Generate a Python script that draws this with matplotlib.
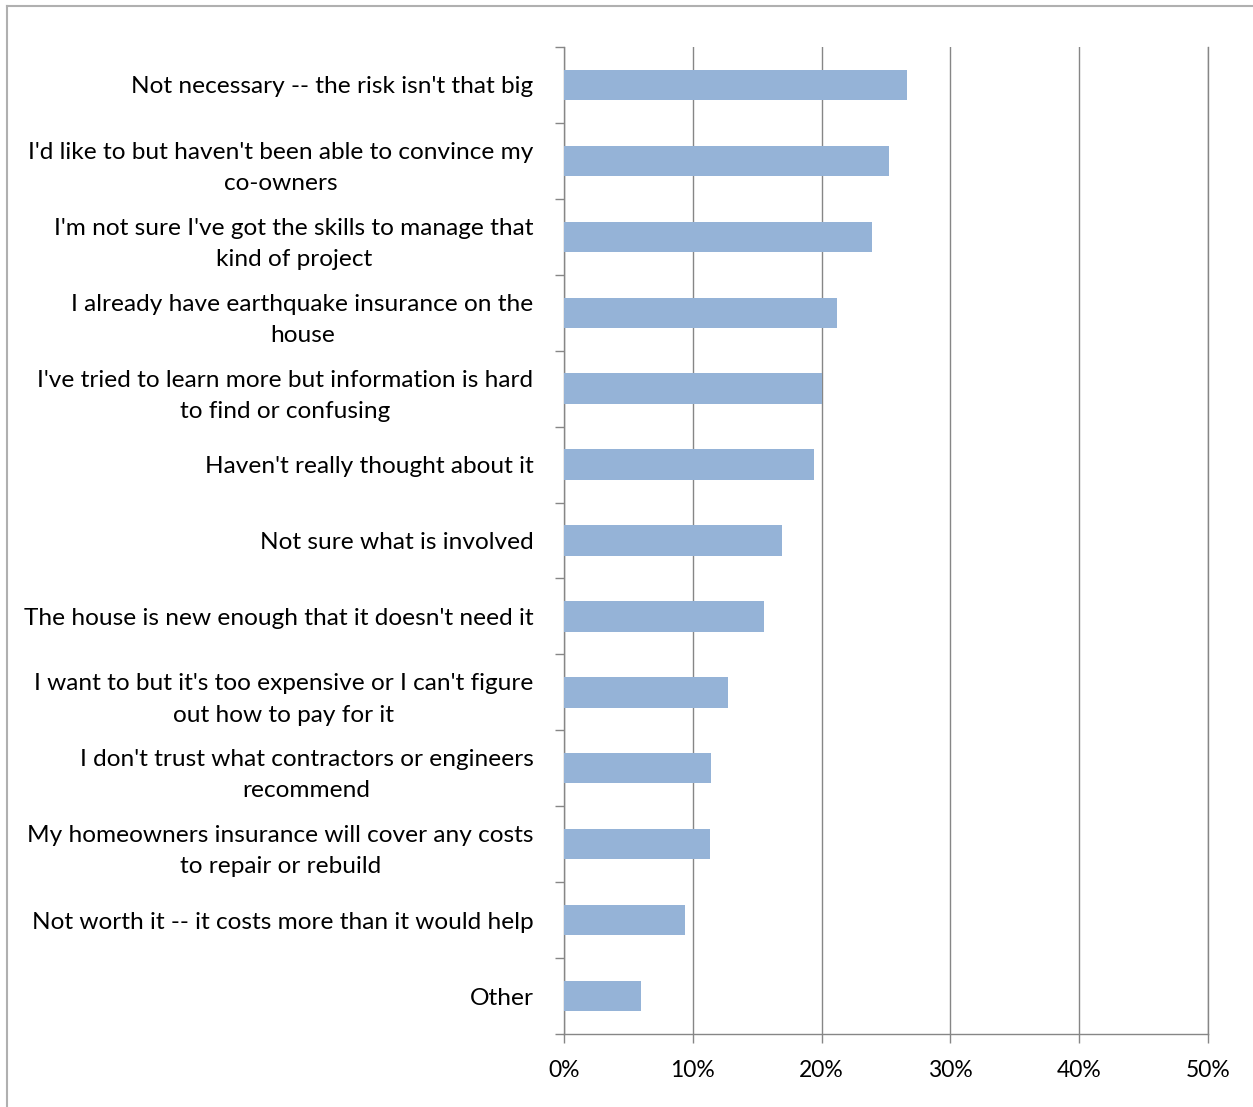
import matplotlib
matplotlib.use("Agg")
import matplotlib.pyplot as plt
from matplotlib.lines import Line2D
from matplotlib.ticker import FuncFormatter, FixedLocator

# data (top to bottom as shown)
labels = [
    "Not necessary -- the risk isn't that big",
    "I'd like to but haven't been able to convince my\nco-owners",
    "I'm not sure I've got the skills to manage that\nkind of project",
    "I already have earthquake insurance on the\nhouse",
    "I've tried to learn more but information is hard\nto find or confusing",
    "Haven't really thought about it",
    "Not sure what is involved",
    "The house is new enough that it doesn't need it",
    "I want to but it's too expensive or I can't figure\nout how to pay for it",
    "I don't trust what contractors or engineers\nrecommend",
    "My homeowners insurance will cover any costs\nto repair or rebuild",
    "Not worth it -- it costs more than it would help",
    "Other",
]
values = [26.6, 25.2, 23.9, 21.2, 20.0, 19.4, 16.9, 15.5, 12.7, 11.4, 11.3, 9.4, 6.0]
x_ticks = [0, 10, 20, 30, 40, 50]

plt.rcParams['font.family'] = ['Lato', 'DejaVu Sans']

fig = plt.figure(figsize=(12.53, 11.07), dpi=100)
ax = fig.add_axes([564 / 1253, 1 - 1034 / 1107, 644 / 1253, 987 / 1107])

n = len(labels)
ypos = list(range(n))
ax.barh(ypos, values, height=0.4, color='#95B3D7', zorder=3)

ax.set_xlim(0, 50)
ax.set_ylim(n - 0.5, -0.5)

grid_col = '#868686'
ax.xaxis.set_major_locator(FixedLocator(x_ticks))
ax.xaxis.set_major_formatter(FuncFormatter(lambda v, p: f"{v:.0f}%"))
ax.grid(axis='x', color=grid_col, linewidth=1.0, zorder=0)

# category labels in the middle, ticks on the boundaries
ax.set_yticks(ypos)
ax.set_yticklabels(labels, multialignment='center', linespacing=1.6)
ax.set_yticks([i - 0.5 for i in range(n + 1)], minor=True)
ax.tick_params(axis='y', which='major', length=0, pad=22, labelsize=17.6)
ax.tick_params(axis='y', which='minor', length=6.5, width=1.0, color=grid_col, direction='out')
ax.tick_params(axis='x', length=6.5, width=1.0, color=grid_col, pad=12, labelsize=16.5)

ax.spines['top'].set_visible(False)
for side in ['left', 'bottom', 'right']:
    ax.spines[side].set_color(grid_col)
    ax.spines[side].set_linewidth(1.0)

# outer chart border (only top/left visible in the crop)
fig.add_artist(Line2D([7 / 1253, 7 / 1253], [0, 1 - 6 / 1107], color='#b0b0b0', linewidth=1.5))
fig.add_artist(Line2D([7 / 1253, 1], [1 - 6 / 1107, 1 - 6 / 1107], color='#b0b0b0', linewidth=1.5))

fig.savefig("out.png", dpi=100)
